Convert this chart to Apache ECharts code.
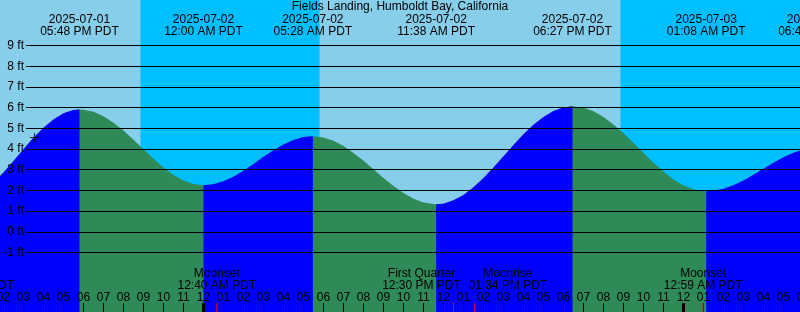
<!DOCTYPE html>
<html>
<head>
<meta charset="utf-8">
<title>Fields Landing, Humboldt Bay, California</title>
<script src="https://cdn.jsdelivr.net/npm/echarts@6/dist/echarts.min.js"></script>
<style>
html, body { margin: 0; padding: 0; background: #87ceeb; }
#chart { width: 800px; height: 312px; }
</style>
</head>
<body>
<div id="chart"></div>
<script>
// all times are hours counted from 2025-07-02 00:00 PDT
var tideHours = [-10.5, -10, -9.5, -9, -8.5, -8, -7.5, -7, -6.5, -6.2,
    -6, -5.5, -5, -4.5, -4, -3.5, -3, -2.5, -2, -1.5, -1, -0.5, 0,
    0.5, 1, 1.5, 2, 2.5, 3, 3.5, 4, 4.5, 5, 5.467,
    5.5, 6, 6.5, 7, 7.5, 8, 8.5, 9, 9.5, 10, 10.5, 11, 11.5, 11.633,
    12, 12.5, 13, 13.5, 14, 14.5, 15, 15.5, 16, 16.5, 17, 17.5, 18, 18.45,
    18.5, 19, 19.5, 20, 20.5, 21, 21.5, 22, 22.5, 23, 23.5, 24, 24.5, 25, 25.133,
    25.5, 26, 26.5, 27, 27.5, 28, 28.5, 29, 29.5, 30, 30.5];
var tideFeet = [2.38, 2.87, 3.42, 3.99, 4.54, 5.03, 5.43, 5.73, 5.88, 5.91,
    5.90, 5.80, 5.58, 5.27, 4.89, 4.45, 3.99, 3.53, 3.11, 2.75, 2.48, 2.31, 2.25,
    2.30, 2.44, 2.66, 2.95, 3.28, 3.62, 3.94, 4.22, 4.44, 4.58, 4.62,
    4.62, 4.56, 4.40, 4.14, 3.81, 3.43, 3.02, 2.60, 2.21, 1.87, 1.60, 1.41, 1.34, 1.33,
    1.36, 1.52, 1.78, 2.15, 2.60, 3.11, 3.65, 4.19, 4.71, 5.17, 5.55, 5.84, 6.01, 6.06,
    6.06, 5.99, 5.82, 5.54, 5.18, 4.76, 4.29, 3.81, 3.34, 2.91, 2.53, 2.24, 2.05, 1.96, 1.96,
    1.98, 2.08, 2.25, 2.48, 2.76, 3.05, 3.34, 3.60, 3.82, 3.97, 4.05];

var extremeHours = [-6.2, 0, 5.467, 11.633, 18.45, 25.133, 30.7];
var extremeDates = ['2025-07-01', '2025-07-02', '2025-07-02', '2025-07-02', '2025-07-02', '2025-07-03', '2025-07-03'];
var extremeTimes = ['05:48 PM PDT', '12:00 AM PDT', '05:28 AM PDT', '11:38 AM PDT', '06:27 PM PDT', '01:08 AM PDT', '06:42 AM PDT'];

var moonHours = [-11.45, 0.667, 12.5, 13.567, 24.983];
var moonNames = ['Moonrise', 'Moonset', 'First Quarter', 'Moonrise', 'Moonset'];
var moonTimes = ['12:33 PM PDT', '12:40 AM PDT', '12:30 PM PDT', '01:34 PM PDT', '12:59 AM PDT'];
var moonLabelShift = [0, 0, -32, 33, 0];

var nightStart = [-3.15, 20.85];
var nightEnd = [5.8, 33];

var feetLevels = [-1, 0, 1, 2, 3, 4, 5, 6, 7, 8, 9];
var hourTicks = [-10, -9, -8, -7, -6, -5, -4, -3, -2, -1, 0, 1, 2, 3, 4, 5, 6, 7, 8, 9, 10,
    11, 12, 13, 14, 15, 16, 17, 18, 19, 20, 21, 22, 23, 24, 25, 26, 27, 28, 29, 30];
var hourLabels = ['02', '03', '04', '05', '06', '07', '08', '09', '10', '11', '12', '01', '02', '03', '04', '05', '06', '07', '08', '09', '10',
    '11', '12', '01', '02', '03', '04', '05', '06', '07', '08', '09', '10', '11', '12', '01', '02', '03', '04', '05', '06'];
var midnightHours = [0, 24];
var nowPoint = [-8.45, 4.56];

var HOUR_MIN = -10.175, HOUR_MAX = 29.825;
var FEET_MIN = -3.874, FEET_MAX = 11.198;
var FONT = '12px "Liberation Sans", Arial, sans-serif';

// cut the curve into rising / falling runs at the extremes
var allPoints = [];
var runs = [];
var run = [];
for (var i = 0; i < tideHours.length; i++) {
    var pt = [tideHours[i], tideFeet[i]];
    allPoints.push(pt);
    run.push(pt);
    if (extremeHours.indexOf(tideHours[i]) >= 0) {
        runs.push(run);
        run = [pt];
    }
}
if (run.length > 1) runs.push(run);

var series = [];
// night shading
series.push({
    type: 'line', data: [], z: 1, silent: true,
    markArea: {
        silent: true,
        itemStyle: { color: '#00bfff', opacity: 1 },
        data: nightStart.map(function(s, k) { return [{ xAxis: s }, { xAxis: nightEnd[k] }]; })
    }
});
// falling water (whole curve, rising runs go on top)
series.push({
    type: 'line', data: allPoints, z: 2, silent: true, showSymbol: false,
    lineStyle: { width: 0 },
    areaStyle: { color: '#2e8b57', opacity: 1, origin: 'start' }
});
runs.forEach(function(r) {
    if (r[r.length - 1][1] > r[0][1]) {
        series.push({
            type: 'line', data: r, z: 3, silent: true, showSymbol: false,
            lineStyle: { width: 0 },
            areaStyle: { color: '#0000ff', opacity: 1, origin: 'start' }
        });
    }
});
// foot lines
series.push({
    type: 'line', data: [], xAxisIndex: 1, yAxisIndex: 1, z: 5, silent: true,
    markLine: {
        silent: true, symbol: ['none', 'none'], label: { show: false },
        lineStyle: { color: '#000', width: 1, type: 'solid' },
        data: feetLevels.map(function(v) { return { yAxis: v }; })
    }
});
// hour ticks and labels along the bottom
series.push({
    type: 'custom', z: 6, silent: true,
    data: hourTicks.map(function(h) { return [h, FEET_MIN]; }),
    renderItem: function(params, api) {
        var p = api.coord([api.value(0), FEET_MIN]);
        var thick = midnightHours.indexOf(api.value(0)) >= 0;
        return {
            type: 'group',
            children: [{
                type: 'line',
                shape: { x1: p[0], y1: p[1], x2: p[0], y2: p[1] - 9 },
                style: { stroke: '#000', lineWidth: thick ? 3 : 1 }
            }, {
                type: 'text',
                style: {
                    text: hourLabels[params.dataIndex], x: p[0], y: p[1] - 14.5,
                    font: FONT, fill: '#000',
                    align: 'center', verticalAlign: 'middle',
                    textAlign: 'center', textVerticalAlign: 'middle'
                }
            }]
        };
    }
});
// moon event ticks
series.push({
    type: 'custom', z: 7, silent: true,
    data: moonHours.map(function(h) { return [h, FEET_MIN]; }),
    renderItem: function(params, api) {
        var p = api.coord([api.value(0), FEET_MIN]);
        return {
            type: 'line',
            shape: { x1: p[0], y1: p[1], x2: p[0], y2: p[1] - 9 },
            style: { stroke: '#ff0000', lineWidth: 1 }
        };
    }
});
// current time mark
series.push({
    type: 'scatter', data: [nowPoint], z: 8, silent: true,
    symbol: 'path://M4,0h1v9h-1zM0,4h9v1h-9z', symbolSize: 9,
    itemStyle: { color: '#000' }
});

var chart = echarts.init(document.getElementById('chart'));
chart.setOption({
    animation: false,
    grid: [
        { left: 0, right: 0, top: 0, bottom: 0, show: true, backgroundColor: '#87ceeb', borderWidth: 0 },
        { left: 26, right: 0, top: 0, bottom: 0 }
    ],
    xAxis: [
        { type: 'value', gridIndex: 0, min: HOUR_MIN, max: HOUR_MAX, show: false },
        { type: 'value', gridIndex: 1, min: HOUR_MIN, max: HOUR_MAX, show: false }
    ],
    yAxis: [
        { type: 'value', gridIndex: 0, min: FEET_MIN, max: FEET_MAX, show: false },
        {
            type: 'value', gridIndex: 1, min: FEET_MIN, max: FEET_MAX, z: 6,
            axisLine: { show: false }, axisTick: { show: false }, splitLine: { show: false },
            axisLabel: {
                customValues: feetLevels, margin: 2, color: '#000',
                fontFamily: '"Liberation Sans", Arial, sans-serif', fontSize: 12,
                formatter: function(v) { return v + ' ft'; }
            }
        }
    ],
    series: series
});

// texts placed on the time scale
function textEl(str, x, y) {
    return {
        type: 'text', x: x, y: y, z: 100, silent: true,
        style: {
            text: str, x: 0, y: 0, font: FONT, fill: '#000',
            align: 'center', verticalAlign: 'middle',
            textAlign: 'center', textVerticalAlign: 'middle'
        }
    };
}
var graphics = [textEl('Fields Landing, Humboldt Bay, California', 400, 7)];
extremeHours.forEach(function(h, k) {
    var x = chart.convertToPixel({ xAxisIndex: 0 }, h);
    graphics.push(textEl(extremeDates[k], x, 19.5));
    graphics.push(textEl(extremeTimes[k], x, 32));
});
moonHours.forEach(function(h, k) {
    var x = chart.convertToPixel({ xAxisIndex: 0 }, h) + moonLabelShift[k];
    graphics.push(textEl(moonNames[k], x, 274));
    graphics.push(textEl(moonTimes[k], x, 285.5));
});
chart.setOption({ graphic: graphics });
</script>
</body>
</html>
